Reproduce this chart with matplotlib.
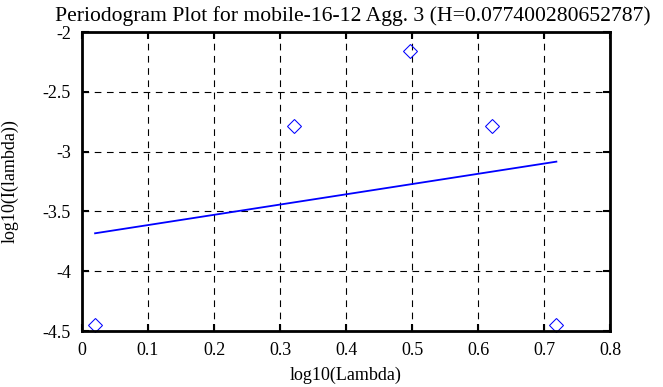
import numpy as np
import matplotlib
matplotlib.use("Agg")
import matplotlib.pyplot as plt

# periodogram points (log10 frequency vs log10 intensity)
log_lambda = [0.0198, 0.3208, 0.4969, 0.6218, 0.7187]
log_I = [-4.45, -2.783, -2.156, -2.783, -4.45]

# fitted line end points
fit_x = [0.0198, 0.7187]
fit_y = [-3.683, -3.084]

title = "Periodogram Plot for mobile-16-12 Agg. 3 (H=0.077400280652787)"

plt.rcParams['font.family'] = ['Liberation Serif', 'DejaVu Serif']
plt.rcParams['font.size'] = 13

fig = plt.figure(figsize=(6.63, 3.87), dpi=100)
ax = fig.add_axes([0.1237, 0.1447, 0.7964, 0.7726])

ax.plot(fit_x, fit_y, color='blue', linewidth=1.3)
ax.plot(log_lambda, log_I, linestyle='none', marker='D', markersize=7.3,
        markerfacecolor='none', markeredgecolor='blue', markeredgewidth=0.75,
        clip_on=False)

ax.set_xlim(0, 0.8)
ax.set_ylim(-4.5, -2)
ax.set_xticks(np.arange(0, 0.81, 0.1))
ax.set_yticks(np.arange(-4.5, -1.99, 0.5))
ax.set_xticklabels(['0', '0.1', '0.2', '0.3', '0.4', '0.5', '0.6', '0.7', '0.8'])
ax.set_yticklabels(['-4.5', '-4', '-3.5', '-3', '-2.5', '-2'])
ax.grid(True, color='black', linestyle=(0, (6, 5)), linewidth=0.8)
ax.tick_params(direction='in', top=True, right=True, length=5, width=1.5, pad=8)
for s in ax.spines.values():
    s.set_linewidth(2)

ax.set_xlabel("log10(Lambda)", labelpad=5.5)
ax.set_ylabel("log10(I(lambda))", labelpad=17)
ax.set_title(title, pad=8, x=0.512)

fig.savefig("out.png", dpi=100)
